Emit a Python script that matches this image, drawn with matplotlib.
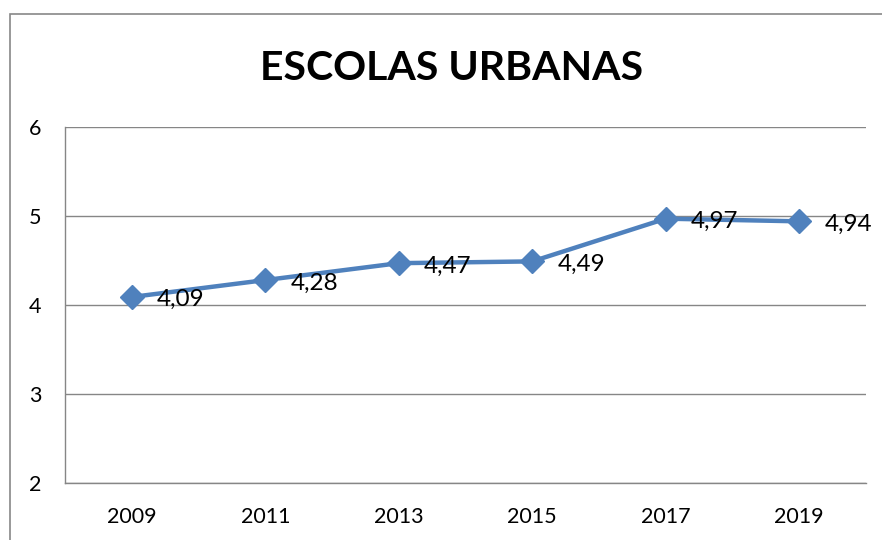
import matplotlib
matplotlib.use('Agg')
from matplotlib import pyplot as plt
from matplotlib.patches import Rectangle

plt.rcParams['font.family'] = ['Lato', 'DejaVu Sans']

years = ['2009', '2011', '2013', '2015', '2017', '2019']
values = [4.09, 4.28, 4.47, 4.49, 4.97, 4.94]
value_labels = ['4,09', '4,28', '4,47', '4,49', '4,97', '4,94']
TITLE = 'ESCOLAS URBANAS'
BLUE = '#4F81BD'
GRID = '#868686'

fig = plt.figure(figsize=(8.82, 5.40), dpi=100)
fig.patches.append(Rectangle((10 / 882, -0.1), 1.2, 1 - 14 / 540 + 0.1,
                             transform=fig.transFigure, fill=False,
                             edgecolor='#888888', linewidth=1.2))
ax = fig.add_axes([65 / 882, 1 - 483 / 540, (866 - 65) / 882, (483 - 127) / 540])

x = list(range(len(years)))
ax.plot(x, values, color=BLUE, linewidth=3.2, marker='D', markersize=12,
        markerfacecolor=BLUE, markeredgecolor=BLUE)
for xi, v, lab in zip(x, values, value_labels):
    ax.annotate(lab, (xi, v), xytext=(18, -2), textcoords='offset points',
                ha='left', va='center', fontsize=17.5)

ax.set_xlim(-0.5, 5.5)
ax.set_ylim(2, 6)
ax.set_yticks([2, 3, 4, 5, 6])
ax.set_xticks(x)
ax.set_xticklabels(years)
ax.yaxis.grid(True, color=GRID, linewidth=1)
ax.set_axisbelow(True)
ax.tick_params(axis='both', length=0, labelsize=15.5)
ax.tick_params(axis='y', pad=17)
ax.tick_params(axis='x', pad=17)
for side in ['top', 'right']:
    ax.spines[side].set_visible(False)
for side in ['left', 'bottom']:
    ax.spines[side].set_color(GRID)
    ax.spines[side].set_linewidth(1)

fig.text(452 / 882, 1 - 68 / 540, TITLE, ha='center', va='center',
         fontsize=29.5, fontweight='bold')

fig.savefig('out.png', dpi=100)
